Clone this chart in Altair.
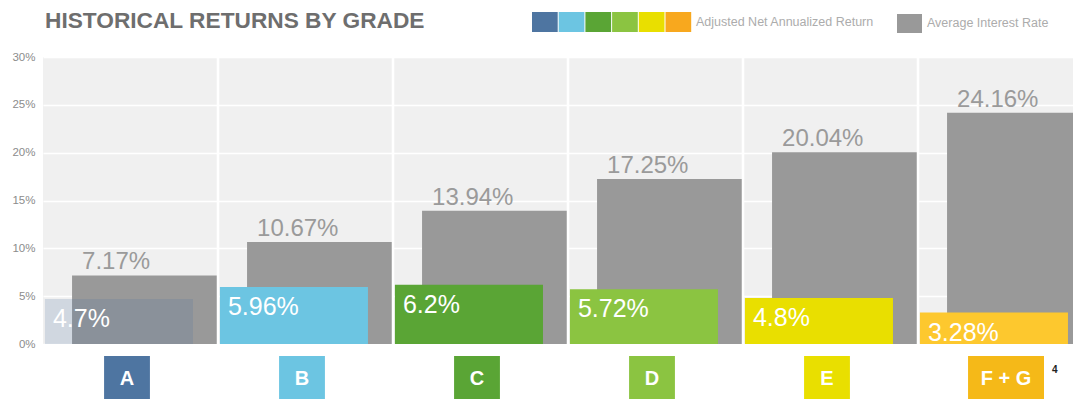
import altair as alt
import pandas as pd

# ---- data ----
grades = ["A", "B", "C", "D", "E", "F + G"]
avg_interest_rate = [7.17, 10.67, 13.94, 17.25, 20.04, 24.16]
net_return = [4.7, 5.96, 6.2, 5.72, 4.8, 3.28]
y_ticks = [0, 5, 10, 15, 20, 25, 30]

# ---- palette ----
bar_colors = ["#4e75a1", "#6cc5e2", "#5aa535", "#8bc441", "#e9df00", "#fdc82e"]
tag_colors = ["#4e75a1", "#6cc5e2", "#5aa535", "#8bc441", "#e9df00", "#f5b918"]
legend_colors = ["#4e75a1", "#6cc5e2", "#5aa535", "#8bc441", "#e9df00", "#f8a81e"]
GRAY = "#999999"
FONT = "Liberation Sans"

# ---- layout ----
W, H = 1030, 287
XMAX = W / 175.0

idx = list(range(len(grades)))
df = pd.DataFrame({
    "i": idx,
    "grade": grades,
    "rate": avg_interest_rate,
    "ret": net_return,
})
df["gx0"] = df["i"] + 0.166
df["gx1"] = df["i"] + 0.995
df["cx0"] = df["i"] + 0.011
df["cx1"] = df["i"] + 0.857
df["tc"] = [i + (0.503 if g == "F + G" else 0.48) for i, g in zip(idx, grades)]
df["hw"] = [0.217 if g == "F + G" else 0.131 for g in grades]
df["t0"] = df["tc"] - df["hw"]
df["t1"] = df["tc"] + df["hw"]

xs = alt.Scale(domain=[0, XMAX], nice=False, zero=False)
ys = alt.Scale(domain=[0, 30], nice=False)
yaxis = alt.Axis(values=y_ticks, labelExpr="datum.value + '%'", domain=False, ticks=False,
                 labelColor="#8c8c8c", labelFontSize=11.5, labelFont=FONT, labelPadding=8,
                 grid=True, gridColor="white", gridWidth=1.5, title=None)


def X(f):
    return alt.X(f, scale=xs, axis=None, title=None)


def Y(f):
    return alt.Y(f, scale=ys, axis=yaxis, title=None)


base = alt.Chart(df)

gray_bars = base.mark_rect(color=GRAY).encode(
    x=X("gx0:Q"), x2="gx1:Q", y=Y("rate:Q"), y2=alt.datum(0)
)

sep = pd.DataFrame({"b": [1, 2, 3, 4, 5]})
separators = alt.Chart(sep).mark_rule(color="white", strokeWidth=2.5).encode(
    x=X("b:Q"), y=alt.value(0), y2=alt.value(H)
)

color_scale = alt.Scale(domain=grades, range=bar_colors)
color_bars = base.mark_rect().encode(
    x=X("cx0:Q"), x2="cx1:Q", y=Y("ret:Q"), y2=alt.datum(0),
    color=alt.Color("grade:N", scale=color_scale, legend=None),
    opacity=alt.condition(alt.datum.grade == "A", alt.value(0.2), alt.value(1.0)),
)

gray_labels = base.transform_calculate(
    lab="format(datum.rate, '.2f') + '%'"
).mark_text(align="left", baseline="alphabetic", dx=10, dy=-6, fontSize=24,
            font=FONT, color="#9a9a9a").encode(
    x=X("gx0:Q"), y=Y("rate:Q"), text="lab:N"
)

white_labels = base.transform_calculate(
    lab="format(datum.ret, '.2~f') + '%'"
).mark_text(align="left", baseline="alphabetic", dx=8, dy=28, fontSize=25,
            font=FONT, color="white").encode(
    x=X("cx0:Q"), y=Y("ret:Q"), text="lab:N"
)

tag_scale = alt.Scale(domain=grades, range=tag_colors)
tags = base.mark_rect().encode(
    x=X("t0:Q"), x2="t1:Q", y=alt.value(H + 12), y2=alt.value(H + 62),
    fill=alt.Fill("grade:N", scale=tag_scale, legend=None),
)
tag_text = base.mark_text(fontSize=20, fontWeight="bold", font=FONT, color="white",
                          align="center", baseline="middle").encode(
    x=X("tc:Q"), y=alt.value(H + 35), text="grade:N"
)

one = pd.DataFrame({"k": [0]})
footnote = alt.Chart(one).mark_text(text="4", fontSize=10, fontWeight="bold", font=FONT,
                                    color="#222222", align="left", baseline="middle").encode(
    x=alt.value(1009), y=alt.value(313)
)

title = alt.Chart(one).mark_text(text="HISTORICAL RETURNS BY GRADE", fontSize=22.7,
                                 fontWeight="bold", font=FONT, color="#6e6e6e",
                                 align="left", baseline="middle").encode(
    x=alt.value(2), y=alt.value(-36)
)

legend_layers = []
for k, c in enumerate(legend_colors):
    legend_layers.append(
        alt.Chart(one).mark_rect(color=c).encode(
            x=alt.value(489 + k * 26.7), x2=alt.value(489 + k * 26.7 + 25.7),
            y=alt.value(-45), y2=alt.value(-25)
        )
    )
legend_layers.append(
    alt.Chart(one).mark_text(text="Adjusted Net Annualized Return", fontSize=12.5, font=FONT,
                             color="#acacac", align="left", baseline="middle").encode(
        x=alt.value(653), y=alt.value(-35)
    )
)
legend_layers.append(
    alt.Chart(one).mark_rect(color=GRAY).encode(
        x=alt.value(854), x2=alt.value(879), y=alt.value(-43), y2=alt.value(-24)
    )
)
legend_layers.append(
    alt.Chart(one).mark_text(text="Average Interest Rate", fontSize=12.5, font=FONT,
                             color="#acacac", align="left", baseline="middle").encode(
        x=alt.value(884), y=alt.value(-34)
    )
)

chart = alt.layer(
    gray_bars, separators, color_bars, gray_labels, white_labels,
    tags, tag_text, footnote, title, *legend_layers
).resolve_scale(color="independent", fill="independent").properties(
    width=W, height=H,
    autosize=alt.AutoSizeParams(type="none"),
    padding={"left": 35, "top": 49, "right": 0, "bottom": 55},
).configure_view(fill="#f0f0f0", stroke=None)

chart.save("out.html", embed_options={"renderer": "svg", "actions": False})
